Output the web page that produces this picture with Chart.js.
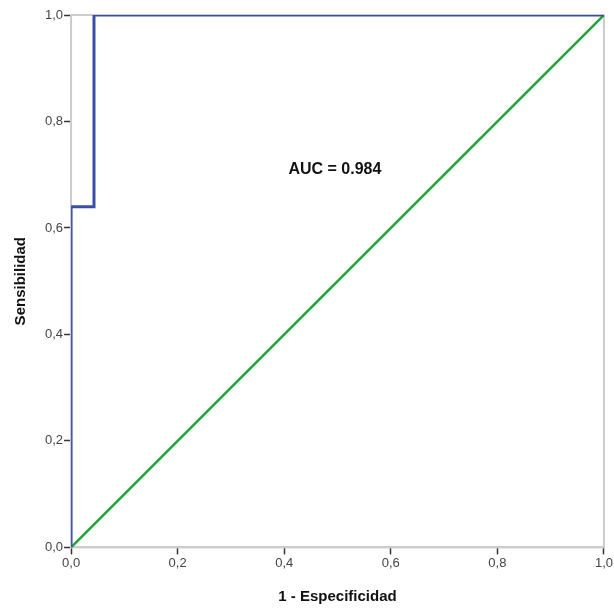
<!DOCTYPE html>
<html>
<head>
<meta charset="utf-8">
<script src="https://cdn.jsdelivr.net/npm/chart.js@4/dist/chart.umd.min.js"></script>
<style>
  html, body { margin: 0; padding: 0; background: #fff; }
  #wrap { width: 614px; height: 608px; }
</style>
</head>
<body>
<div id="wrap"><canvas id="roc-chart"></canvas></div>
<script>
// ROC curve points (1 - especificidad, sensibilidad)
let fpr = [0, 0, 0.043, 0.043, 1];
let tpr = [0, 0.64, 0.64, 1, 1];
let diagX = [0, 1];
let diagY = [0, 1];
let ticks = [0, 0.2, 0.4, 0.6, 0.8, 1.0];
let aucLabel = 'AUC = 0.984';

let toPoints = (xs, ys) => xs.map((x, i) => ({ x: x, y: ys[i] }));
let fmt = v => v.toFixed(1).replace('.', ',');

// gray frame round the plot + AUC text
let framePlugin = {
  id: 'frame',
  beforeDatasetsDraw(chart) {
    let a = chart.chartArea, c = chart.ctx;
    c.save();
    c.strokeStyle = '#cccccc';
    c.lineWidth = 2;
    c.strokeRect(a.left, a.top, a.right - a.left, a.bottom - a.top);
    c.restore();
  },
  afterDatasetsDraw(chart) {
    let c = chart.ctx;
    let x = chart.scales.x.getPixelForValue(0.495);
    let y = chart.scales.y.getPixelForValue(0.71);
    c.save();
    c.font = 'bold 16px "Liberation Sans", Arial, sans-serif';
    c.fillStyle = '#111';
    c.textAlign = 'center';
    c.textBaseline = 'middle';
    c.fillText(aucLabel, x, y);
    c.restore();
  }
};

let roc = document.getElementById('roc-chart').getContext('2d');

let axisFont = { family: '"Liberation Sans", Arial, sans-serif', size: 13 };
let titleFont = { family: '"Liberation Sans", Arial, sans-serif', size: 15, weight: 'bold' };

let rocChart = new Chart(roc, {
  type: 'scatter',
  data: {
    datasets: [{
      data: toPoints(diagX, diagY),
      showLine: true,
      borderColor: '#22a33a',
      borderWidth: 2.5,
      pointRadius: 0,
      order: 2
    }, {
      data: toPoints(fpr, tpr),
      showLine: true,
      borderColor: '#3a4ea8',
      borderWidth: 3,
      pointRadius: 0,
      order: 1
    }]
  },
  options: {
    responsive: true,
    maintainAspectRatio: false,
    animation: false,
    layout: { padding: { top: 15, right: 8, left: 8, bottom: 0 } },
    plugins: {
      legend: { display: false },
      tooltip: { enabled: false }
    },
    scales: {
      x: {
        type: 'linear',
        min: 0,
        max: 1,
        afterBuildTicks: s => { s.ticks = ticks.map(v => ({ value: v })); },
        ticks: { callback: fmt, color: '#444', font: axisFont, padding: 1, maxRotation: 0 },
        grid: { drawOnChartArea: false, tickLength: 7, tickColor: '#333', tickWidth: 1.5 },
        border: { color: '#cccccc', width: 2 },
        title: { display: true, text: '1 - Especificidad', color: '#111', font: titleFont, padding: { top: 16, bottom: 2 } }
      },
      y: {
        type: 'linear',
        min: 0,
        max: 1,
        afterBuildTicks: s => { s.ticks = ticks.map(v => ({ value: v })); },
        ticks: { callback: fmt, color: '#444', font: axisFont, padding: 1 },
        grid: { drawOnChartArea: false, tickLength: 7, tickColor: '#333', tickWidth: 1.5 },
        border: { color: '#cccccc', width: 2 },
        title: { display: true, text: 'Sensibilidad', color: '#111', font: titleFont, padding: { bottom: 14 } }
      }
    }
  },
  plugins: [framePlugin]
});
</script>
</body>
</html>
